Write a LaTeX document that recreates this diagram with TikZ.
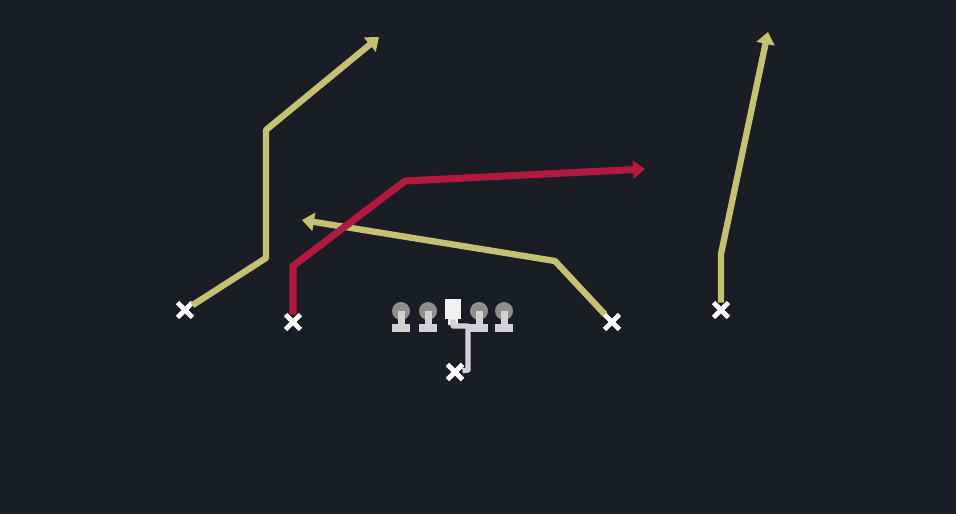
\documentclass[tikz,border=0pt]{standalone}
\usepackage{tikz}
\usetikzlibrary{arrows.meta,shapes.misc}

\definecolor{field}{HTML}{1B1D24}
\definecolor{routeyellow}{HTML}{C4C173}
\definecolor{routered}{HTML}{B3183E}
\definecolor{linegray}{HTML}{D2D2D2}
\definecolor{headgray}{HTML}{8E8E8E}

\tikzset{
  player/.style={cross out, draw=white, line width=2.8pt, minimum size=0.2cm, inner sep=0pt},
  route/.style={draw=routeyellow, line width=3.6pt, line join=round, -{Triangle[length=0.24cm,width=0.36cm]}},
  hotroute/.style={route, draw=routered, line width=4pt},
}

\begin{document}
\begin{tikzpicture}[x=0.02cm,y=-0.02cm]
\fill[field] (0,0) rectangle (956,514);
\useasboundingbox (0,0) rectangle (956,514);

% receivers
\node[player](lwr) at (185,310) {};
\node[player](slot) at (293,322) {};
\node[player](te) at (612,322) {};
\node[player](rwr) at (721,310) {};
\node[player](qb) at (455,372) {};

\coordinate (lwr1) at (266,258);
\coordinate (lwr2) at (266,130);
\coordinate (lwr3) at (379,37);
\coordinate (slot1) at (293,266);
\coordinate (slot2) at (405,181);
\coordinate (slot3) at (645,169);
\coordinate (te1) at (555,261);
\coordinate (te2) at (302,220);
\coordinate (rwr1) at (721,254);
\coordinate (rwr2) at (768,32);

% routes
\draw[route] (lwr) -- (lwr1) -- (lwr2) -- (lwr3);
\draw[route] (te) -- (te1) -- (te2);
\draw[route] (rwr) -- (rwr1) -- (rwr2);
\draw[hotroute] (slot) -- (slot1) -- (slot2) -- (slot3);

% line
\foreach \x in {401,428,479,504}{
  \fill[headgray] (\x,311) circle (9);
  \fill[linegray] (\x-3.5,311) rectangle (\x+3.5,327);
  \fill[linegray] (\x-9,324) rectangle (\x+9,332);
}
\node[fill=white!90!gray, minimum width=0.32cm, minimum height=0.4cm, inner sep=0pt](c) at (453,309) {};
\fill[white!90!gray] (448,318) rectangle (458,325);
\draw[linegray, line width=3pt, line join=round] (c.south) -- (453,326) -- (468,326) -- (468,370) -- (qb);
\node[player] at (qb) {};
\end{tikzpicture}
\end{document}
